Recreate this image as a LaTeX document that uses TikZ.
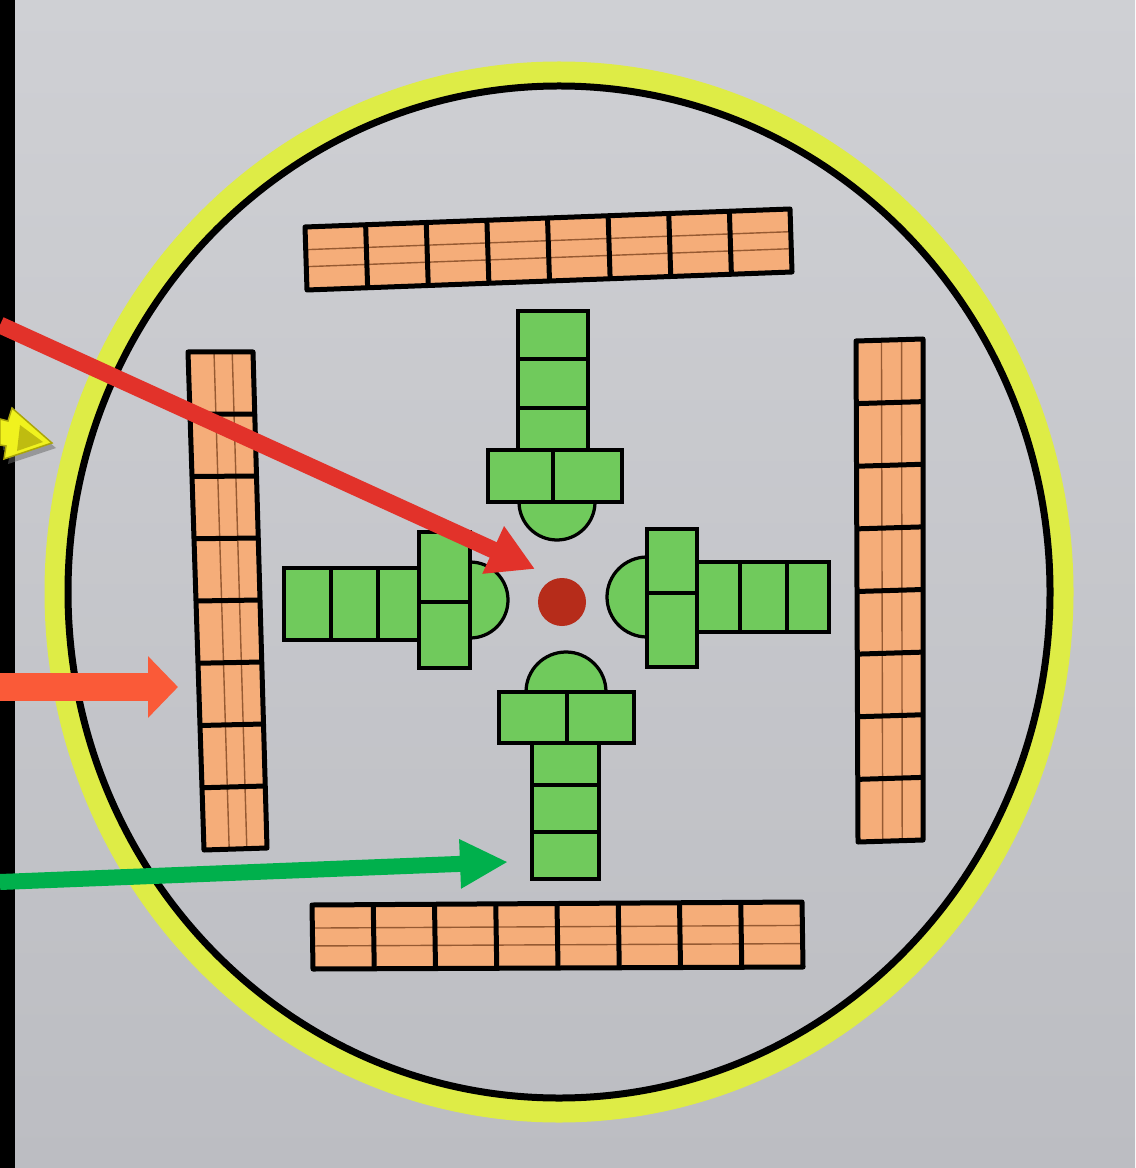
\documentclass[tikz,border=0pt]{standalone}
\usetikzlibrary{calc,arrows.meta}
\definecolor{paperTop}{RGB}{207,208,212}
\definecolor{paperBot}{RGB}{188,189,194}
\definecolor{ringyellow}{RGB}{222,236,70}
\definecolor{barfill}{RGB}{245,173,121}
\definecolor{barthin}{RGB}{150,90,50}
\definecolor{greenfill}{RGB}{112,202,92}
\definecolor{dotred}{RGB}{182,44,26}
\definecolor{arrred}{RGB}{226,50,42}
\definecolor{arrorange}{RGB}{250,90,56}
\definecolor{arrgreen}{RGB}{0,176,76}
\definecolor{arryellow}{RGB}{240,242,30}
\definecolor{arryellowdark}{RGB}{170,165,10}
\tikzset{
  barline/.style={draw=black, line width=0.1cm, line join=round},
  thinline/.style={draw=barthin, line width=0.028cm},
  gcell/.style={fill=greenfill, draw=black, line width=0.065cm},
  redarr/.style={draw=arrred, line width=0.34cm, -{Triangle[length=0.92cm,width=0.98cm]}},
  orgarr/.style={draw=arrorange, line width=0.56cm, -{Triangle[length=0.6cm,width=1.2cm]}},
  grnarr/.style={draw=arrgreen, line width=0.32cm, -{Triangle[length=0.96cm,width=0.92cm]}},
}
\newcommand\orangebar[6]{%
  \fill[barfill] (#1) -- (#2) -- (#3) -- (#4) -- cycle;
  \draw[thinline] ($(#1)!#5!(#4)$) -- ($(#2)!#5!(#3)$);
  \draw[thinline] ($(#1)!#6!(#4)$) -- ($(#2)!#6!(#3)$);
  \foreach \i in {1,...,7} {\draw[barline] ($(#1)!\i/8!(#2)$) -- ($(#4)!\i/8!(#3)$);}
  \draw[barline] (#1) -- (#2) -- (#3) -- (#4) -- cycle;
}
\begin{document}
\begin{tikzpicture}[x=0.02cm,y=-0.02cm]
\useasboundingbox (0,0) rectangle (1135,1168);
% background
\fill[black] (0,0) rectangle (1135,1168);
\shade[top color=paperTop, bottom color=paperBot] (15,0) rectangle (1135,1168);

% circles
\draw[ringyellow, line width=0.46cm] (559,592) ellipse [x radius=503, y radius=519];
\draw[black, line width=0.14cm] (559,592) ellipse [x radius=491, y radius=506];

% orange bars
\coordinate (t1) at (305,227); \coordinate (t2) at (790,209);
\coordinate (t3) at (792,272); \coordinate (t4) at (307,290);
\orangebar{t1}{t2}{t3}{t4}{0.36}{0.63}
\coordinate (b1) at (312,905); \coordinate (b2) at (802,902);
\coordinate (b3) at (803,967); \coordinate (b4) at (313,969);
\orangebar{b1}{b2}{b3}{b4}{0.36}{0.64}
\coordinate (l1) at (188,352); \coordinate (l2) at (204,850);
\coordinate (l3) at (267,848); \coordinate (l4) at (253,352);
\orangebar{l1}{l2}{l3}{l4}{0.4}{0.68}
\coordinate (r1) at (856,341); \coordinate (r2) at (858,842);
\coordinate (r3) at (923,840); \coordinate (r4) at (923,339);
\orangebar{r1}{r2}{r3}{r4}{0.38}{0.68}

% green pieces: top
\draw[gcell] (557,502) circle (38);
\draw[gcell] (518,311) rectangle (588,359);
\draw[gcell] (518,359) rectangle (588,408);
\draw[gcell] (518,408) rectangle (588,452);
\draw[gcell] (488,450) rectangle (553,502);
\draw[gcell] (553,450) rectangle (622,502);
% bottom
\draw[gcell] (566,692) circle (40);
\draw[gcell] (532,743) rectangle (599,785);
\draw[gcell] (532,785) rectangle (599,832);
\draw[gcell] (532,832) rectangle (599,879);
\draw[gcell] (499,692) rectangle (567,743);
\draw[gcell] (567,692) rectangle (634,743);
% left
\draw[gcell] (470,600) circle (38);
\draw[gcell] (284,568) rectangle (331,640);
\draw[gcell] (331,568) rectangle (378,640);
\draw[gcell] (378,568) rectangle (421,640);
\draw[gcell] (419,532) rectangle (470,602);
\draw[gcell] (419,602) rectangle (470,668);
% right
\draw[gcell] (647,597) circle (40);
\draw[gcell] (695,562) rectangle (740,632);
\draw[gcell] (740,562) rectangle (787,632);
\draw[gcell] (787,562) rectangle (829,632);
\draw[gcell] (647,529) rectangle (697,593);
\draw[gcell] (647,593) rectangle (697,667);

% red centre dot
\fill[dotred] (562,602) circle (24);

% yellow arrow (partly visible at left edge)
\fill[black!60, opacity=0.5] (3,424) -- (10,426) -- (16,414) -- (56,448) -- (8,464) -- (10,452) -- (3,450) -- cycle;
\filldraw[fill=arryellow, draw=arryellowdark, line width=0.03cm]
  (0,419) -- (8,421) -- (12,408) -- (52,443) -- (4,459) -- (6,446) -- (0,445) -- cycle;
\fill[arryellowdark!70!arryellow] (20,425) -- (43,442) -- (17,451) -- cycle;

% arrows
\coordinate (rs) at (0,325); \coordinate (rt) at (535,569);
\draw[redarr] (rs) -- (rt);
\coordinate (os) at (0,687); \coordinate (ot) at (178,687);
\draw[orgarr] (os) -- (ot);
\coordinate (gs) at (0,882); \coordinate (gt) at (508,862);
\draw[grnarr] (gs) -- (gt);
\end{tikzpicture}
\end{document}
